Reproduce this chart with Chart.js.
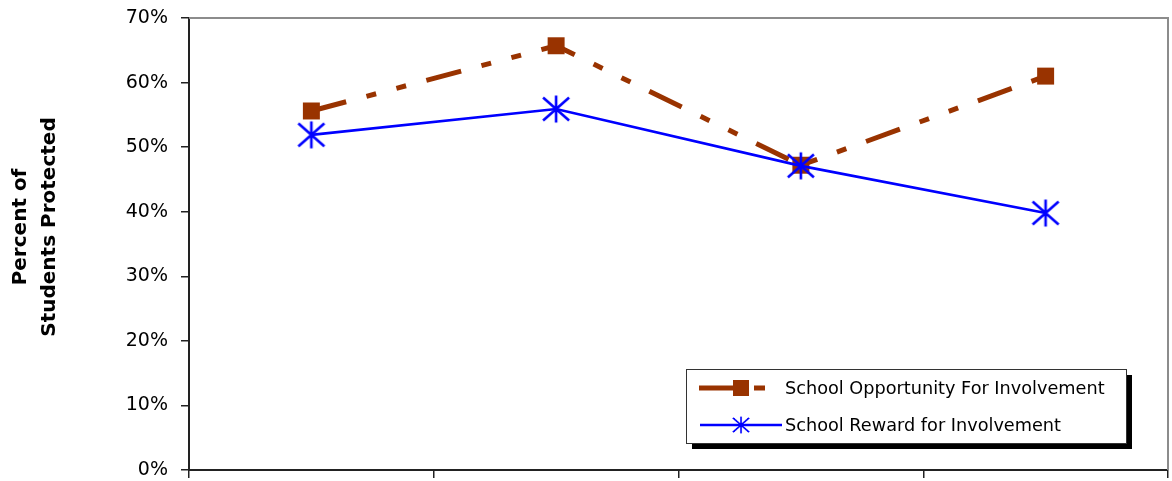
<!DOCTYPE html>
<html>
<head>
<meta charset="utf-8">
<script src="https://cdn.jsdelivr.net/npm/chart.js@4/dist/chart.umd.min.js"></script>
<style>
  html, body { margin: 0; padding: 0; background: #fff; }
  #wrap { width: 1172px; height: 481px; position: relative; }
</style>
</head>
<body>
<div id="wrap"><canvas id="grafico"></canvas></div>
<script>
// data
const categorias = ["1", "2", "3", "4"];
const oportunidad = [55.6, 65.7, 47.2, 61.0];
const recompensa = [51.9, 55.9, 47.1, 39.8];
const ticksY = [0, 10, 20, 30, 40, 50, 60, 70];
const nombres = ["School Opportunity For Involvement", "School Reward for Involvement"];
const tituloY = ["Percent of", "Students Protected"];

const NARANJA = "#993300";
const AZUL = "#0000ff";
const GUION = [36, 21, 10, 21, 10, 21];

// asterisk marker (vertical bar + X)
function crearAsterisco() {
  const c = document.createElement("canvas");
  c.width = 30; c.height = 30;
  const g = c.getContext("2d");
  g.strokeStyle = AZUL;
  g.lineWidth = 2.6;
  g.beginPath();
  g.moveTo(15, 1.5); g.lineTo(15, 28.5);
  g.moveTo(2, 3.5); g.lineTo(28, 26.5);
  g.moveTo(28, 3.5); g.lineTo(2, 26.5);
  g.stroke();
  return c;
}
const asterisco = crearAsterisco();

// gray frame on top and right of the plot area
const marcoPlugin = {
  id: "marco",
  beforeDatasetsDraw(chart) {
    const { ctx, chartArea: a } = chart;
    ctx.save();
    ctx.strokeStyle = "#8c8c8c";
    ctx.lineWidth = 2;
    ctx.beginPath();
    ctx.moveTo(a.left, a.top);
    ctx.lineTo(a.right, a.top);
    ctx.lineTo(a.right, a.bottom);
    ctx.stroke();
    ctx.restore();
  }
};

// y title, drawn by hand so it sits where the original has it
const tituloPlugin = {
  id: "tituloY",
  afterDraw(chart) {
    const { ctx } = chart;
    ctx.save();
    ctx.font = "bold 20px 'DejaVu Sans'";
    ctx.fillStyle = "#000";
    ctx.textAlign = "center";
    ctx.textBaseline = "middle";
    tituloY.forEach((t, i) => {
      ctx.save();
      ctx.translate(21 + i * 29, 227);
      ctx.rotate(-Math.PI / 2);
      ctx.fillText(t, 0, 0);
      ctx.restore();
    });
    ctx.restore();
  }
};

// legend box with drop shadow inside the plot
const leyendaPlugin = {
  id: "leyenda",
  afterDraw(chart) {
    const { ctx, chartArea: a } = chart;
    const x = a.left + 497, y = a.top + 351, w = 440, h = 74;
    ctx.save();
    ctx.fillStyle = "#000";
    ctx.fillRect(x + 6, y + 6, w, h);
    ctx.fillStyle = "#fff";
    ctx.fillRect(x, y, w, h);
    ctx.strokeStyle = "#333";
    ctx.lineWidth = 1;
    ctx.strokeRect(x + 0.5, y + 0.5, w, h);

    // row 1
    let cy = y + 19;
    ctx.strokeStyle = NARANJA;
    ctx.lineWidth = 5;
    ctx.beginPath();
    ctx.moveTo(x + 13, cy); ctx.lineTo(x + 55, cy);
    ctx.moveTo(x + 68, cy); ctx.lineTo(x + 79, cy);
    ctx.stroke();
    ctx.fillStyle = NARANJA;
    ctx.fillRect(x + 47, cy - 8, 16, 16);

    // row 2
    let cy2 = y + 56;
    ctx.strokeStyle = AZUL;
    ctx.lineWidth = 2.5;
    ctx.beginPath();
    ctx.moveTo(x + 14, cy2); ctx.lineTo(x + 96, cy2);
    ctx.stroke();
    ctx.save();
    ctx.translate(x + 55, cy2);
    ctx.scale(0.62, 0.62);
    ctx.drawImage(asterisco, -15, -15);
    ctx.restore();

    ctx.fillStyle = "#000";
    ctx.font = "17.7px 'DejaVu Sans'";
    ctx.textBaseline = "middle";
    ctx.fillText(nombres[0], x + 99, cy + 1);
    ctx.fillText(nombres[1], x + 99, cy2 + 1);
    ctx.restore();
  }
};

const ctx = document.getElementById("grafico").getContext("2d");
new Chart(ctx, {
  type: "line",
  data: {
    labels: categorias,
    datasets: [
      {
        label: nombres[0],
        data: oportunidad,
        borderColor: NARANJA,
        backgroundColor: NARANJA,
        borderWidth: 5,
        borderDash: GUION,
        borderCapStyle: "butt",
        pointStyle: "rect",
        pointRadius: 12,
        pointBorderWidth: 0,
        pointBackgroundColor: NARANJA,
        tension: 0,
        order: 1
      },
      {
        label: nombres[1],
        data: recompensa,
        borderColor: AZUL,
        backgroundColor: AZUL,
        borderWidth: 2.6,
        pointStyle: asterisco,
        pointRadius: 14,
        tension: 0,
        order: 0
      }
    ]
  },
  options: {
    responsive: true,
    maintainAspectRatio: false,
    animation: false,
    events: [],
    layout: { autoPadding: false, padding: { top: 18, right: 4, bottom: 3, left: 0 } },
    plugins: {
      legend: { display: false },
      tooltip: { enabled: false }
    },
    scales: {
      x: {
        offset: true,
        grid: {
          offset: true,
          drawOnChartArea: false,
          drawTicks: true,
          tickLength: 8,
          color: "#222",
          lineWidth: 1.5
        },
        border: { display: true, color: "#222", width: 2 },
        ticks: { display: false }
      },
      y: {
        min: 0,
        max: 70,
        afterBuildTicks(scale) {
          scale.ticks = ticksY.map(v => ({ value: v }));
        },
        afterFit(scale) {
          scale.width = 189;
          scale.paddingTop = 0;
          scale.paddingBottom = 0;
        },
        grid: {
          drawOnChartArea: false,
          drawTicks: true,
          tickLength: 8,
          color: "#222",
          lineWidth: 1.5
        },
        border: { display: true, color: "#222", width: 2 },
        ticks: {
          padding: 13,
          color: "#000",
          font: { family: "'DejaVu Sans'", size: 19 },
          callback: v => v + "%"
        }
      }
    }
  },
  plugins: [marcoPlugin, tituloPlugin, leyendaPlugin]
});
</script>
</body>
</html>
